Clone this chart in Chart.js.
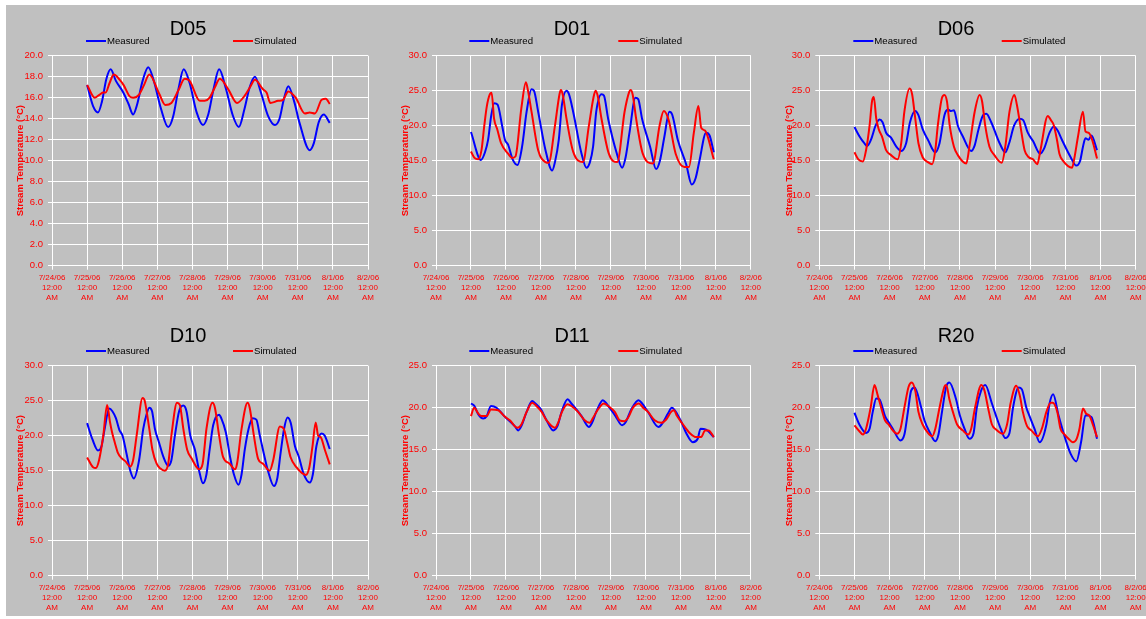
<!DOCTYPE html>
<html>
<head>
<meta charset="utf-8">
<script src="https://cdn.jsdelivr.net/npm/chart.js@4/dist/chart.umd.min.js"></script>
<style>
  html, body { margin: 0; padding: 0; width: 1146px; height: 619px; overflow: hidden; background: #ffffff; }
  #sheet { position: absolute; left: 6px; top: 5px; width: 1140px; height: 611px; background: #c0c0c0; }
  canvas { position: absolute; }
</style>
</head>
<body>
<div id="sheet"></div>
<script>
// Axis labels
const dayLabels = ['7/24/06', '7/25/06', '7/26/06', '7/27/06', '7/28/06', '7/29/06', '7/30/06', '7/31/06', '8/1/06', '8/2/06'];
const timeLabel = ['12:00', 'AM'];
const seriesNames = ['Measured', 'Simulated'];
const siteNames = ['D05', 'D01', 'D06', 'D10', 'D11', 'R20'];
const yMax = [20, 30, 30, 30, 25, 25];
const yStep = [2, 5, 5, 5, 5, 5];

// Stream temperature (°C) vs. days since 7/25/06 12:00 AM, [day, temp]
const d05Measured = [[0,17.2],[0.17,15.2],[0.31,14.6],[0.42,15.6],[0.55,17.8],[0.67,18.7],[0.82,17.6],[1.03,16.5],[1.18,15.4],[1.31,14.4],[1.42,15.3],[1.58,17.6],[1.74,18.9],[1.90,17.6],[2.10,15.0],[2.31,13.2],[2.45,14.2],[2.60,16.8],[2.75,18.7],[2.92,17.4],[3.12,14.6],[3.30,13.4],[3.45,14.4],[3.60,16.8],[3.76,18.7],[3.95,16.9],[4.15,14.3],[4.32,13.2],[4.48,14.9],[4.63,17.0],[4.78,18.0],[4.95,16.5],[5.15,14.3],[5.35,13.4],[5.48,14.0],[5.60,15.8],[5.73,17.1],[5.90,15.6],[6.05,13.6],[6.34,11.0],[6.45,11.6],[6.60,13.7],[6.74,14.4],[6.91,13.6]];
const d05Simulated = [[0,17.2],[0.22,16.0],[0.36,16.3],[0.46,16.5],[0.53,16.5],[0.64,17.4],[0.76,18.2],[0.93,17.7],[1.04,17.2],[1.22,16.1],[1.31,16.0],[1.48,16.3],[1.62,17.2],[1.77,18.2],[2.05,16.4],[2.23,15.3],[2.40,15.5],[2.60,16.7],[2.78,17.8],[2.92,17.6],[3.21,15.7],[3.35,15.7],[3.49,16.0],[3.64,17.0],[3.78,17.8],[4.02,16.8],[4.27,15.5],[4.49,16.2],[4.64,17.0],[4.78,17.7],[5.01,16.8],[5.11,16.5],[5.22,15.5],[5.44,15.7],[5.58,15.8],[5.73,16.6],[5.94,16.0],[6.20,14.5],[6.34,14.6],[6.49,14.5],[6.68,15.8],[6.80,15.9],[6.91,15.4]];

const d01Measured = [[0,19.1],[0.285,15.1],[0.40,16.2],[0.49,18.0],[0.58,21.5],[0.665,23.2],[0.76,23.0],[0.89,20.0],[0.97,18.0],[1.06,17.3],[1.19,15.2],[1.33,14.4],[1.46,17.0],[1.59,22.0],[1.73,25.2],[1.80,25.0],[1.92,22.0],[2.13,16.5],[2.32,13.6],[2.40,14.8],[2.51,18.0],[2.60,23.0],[2.73,25.0],[2.80,24.5],[2.92,22.0],[3.16,16.0],[3.30,14.0],[3.40,14.8],[3.49,17.0],[3.58,22.0],[3.73,24.5],[3.80,24.3],[3.92,21.0],[4.17,16.0],[4.32,14.0],[4.42,15.5],[4.53,19.0],[4.70,24.0],[4.78,23.8],[4.89,21.0],[5.12,17.0],[5.29,13.8],[5.40,15.0],[5.53,18.5],[5.67,22.0],[5.75,21.6],[5.91,18.0],[6.15,14.5],[6.31,11.6],[6.42,12.5],[6.53,15.0],[6.72,19.0],[6.82,18.6],[6.94,16.2]];
const d01Simulated = [[0,16.3],[0.10,15.4],[0.21,15.2],[0.30,16.5],[0.38,20.0],[0.45,22.7],[0.54,24.5],[0.59,24.7],[0.66,21.0],[0.75,19.5],[0.86,17.5],[1.06,16.0],[1.18,15.4],[1.27,15.6],[1.44,22.5],[1.57,26.2],[1.63,25.0],[1.73,22.0],[1.92,16.5],[2.13,14.8],[2.22,14.7],[2.40,20.0],[2.53,24.5],[2.57,25.1],[2.62,24.5],[2.73,21.0],[2.92,16.3],[3.20,14.8],[3.37,20.0],[3.50,24.0],[3.56,25.0],[3.62,24.3],[3.73,21.0],[3.94,16.0],[4.18,14.8],[4.39,22.0],[4.52,24.8],[4.56,25.1],[4.62,24.5],[4.72,21.0],[4.91,16.0],[5.20,14.6],[5.39,20.0],[5.51,22.1],[5.65,20.8],[5.85,16.0],[6.10,14.1],[6.23,14.1],[6.37,19.0],[6.50,22.8],[6.58,19.7],[6.69,19.3],[6.94,15.2]];

const d06Measured = [[0,19.8],[0.14,18.5],[0.28,17.5],[0.36,17.1],[0.47,18.0],[0.60,20.0],[0.71,20.9],[0.80,20.5],[0.90,19.0],[1.04,18.3],[1.19,17.0],[1.33,16.4],[1.47,17.5],[1.58,20.5],[1.73,22.1],[1.82,21.5],[1.94,19.5],[2.09,18.0],[2.30,16.2],[2.42,17.5],[2.56,21.5],[2.66,22.3],[2.75,22.1],[2.83,22.2],[2.94,20.0],[3.08,18.5],[3.32,16.4],[3.42,17.2],[3.53,19.5],[3.66,21.5],[3.75,21.7],[3.89,20.5],[4.13,17.5],[4.29,16.2],[4.40,17.5],[4.54,20.0],[4.70,21.0],[4.80,20.8],[4.93,19.0],[5.08,17.8],[5.28,16.0],[5.40,16.8],[5.55,19.0],[5.67,19.9],[5.78,19.3],[5.90,18.0],[6.15,15.5],[6.31,14.3],[6.42,15.0],[6.50,17.0],[6.57,18.2],[6.66,18.0],[6.74,18.6],[6.90,16.5]];
const d06Simulated = [[0,16.2],[0.11,15.2],[0.24,14.9],[0.33,16.5],[0.43,20.0],[0.50,23.5],[0.55,24.1],[0.62,21.0],[0.69,19.5],[0.78,18.5],[0.90,16.5],[1.04,15.8],[1.23,15.2],[1.33,17.5],[1.42,22.0],[1.57,25.3],[1.64,24.5],[1.73,21.0],[1.82,17.5],[1.94,15.5],[2.09,14.8],[2.21,14.5],[2.30,16.5],[2.37,20.0],[2.49,24.0],[2.56,24.4],[2.63,23.5],[2.71,20.0],[2.83,17.0],[2.94,15.8],[3.18,14.6],[3.27,17.0],[3.42,22.0],[3.56,24.4],[3.63,23.5],[3.72,20.0],[3.84,17.0],[3.98,15.8],[4.19,14.7],[4.29,17.0],[4.41,22.0],[4.55,24.4],[4.62,23.0],[4.72,20.0],[4.84,16.5],[4.96,15.5],[5.08,15.2],[5.20,14.5],[5.29,16.5],[5.50,21.4],[5.60,20.7],[5.66,20.2],[5.76,18.0],[5.83,16.0],[5.93,15.0],[6.19,14.0],[6.26,15.5],[6.36,18.5],[6.50,22.0],[6.57,19.2],[6.66,19.0],[6.76,18.0],[6.90,15.3]];

const d10Measured = [[0,21.8],[0.15,19.5],[0.31,17.9],[0.41,18.5],[0.50,21.0],[0.63,23.9],[0.72,23.5],[0.82,22.5],[0.92,20.8],[1.01,20.0],[1.12,17.5],[1.23,15.0],[1.33,13.9],[1.48,16.5],[1.60,21.0],[1.69,23.0],[1.77,24.0],[1.85,23.5],[1.93,21.0],[2.05,19.0],[2.17,17.0],[2.31,15.7],[2.40,16.5],[2.50,20.0],[2.62,23.5],[2.74,24.3],[2.83,23.5],[2.94,20.0],[3.07,18.0],[3.19,15.0],[3.30,13.2],[3.40,14.5],[3.49,18.0],[3.59,21.5],[3.76,23.0],[3.82,22.5],[3.95,20.5],[4.07,17.0],[4.18,14.5],[4.31,13.0],[4.40,14.5],[4.49,18.0],[4.60,21.0],[4.71,22.5],[4.82,22.3],[4.92,20.0],[5.03,17.5],[5.15,15.0],[5.32,12.8],[5.42,14.0],[5.51,17.5],[5.61,21.0],[5.71,22.6],[5.80,21.8],[5.92,18.5],[6.03,17.0],[6.17,14.5],[6.34,13.3],[6.43,14.5],[6.53,18.5],[6.68,20.3],[6.77,20.0],[6.91,18.1]];
const d10Simulated = [[0,16.9],[0.17,15.5],[0.25,15.4],[0.34,16.5],[0.46,20.0],[0.57,24.4],[0.65,22.0],[0.71,20.5],[0.79,19.0],[0.88,17.5],[0.98,16.8],[1.10,16.3],[1.22,15.6],[1.31,16.5],[1.41,20.0],[1.58,25.4],[1.64,25.0],[1.77,21.0],[1.86,18.0],[1.98,16.0],[2.09,15.3],[2.21,15.0],[2.31,16.0],[2.40,20.0],[2.56,24.7],[2.64,24.4],[2.74,21.0],[2.85,18.0],[2.97,16.8],[3.19,15.2],[3.29,16.0],[3.40,21.0],[3.57,24.7],[3.64,24.0],[3.76,20.0],[3.87,17.0],[4.06,16.0],[4.21,15.2],[4.27,16.0],[4.40,21.0],[4.57,24.7],[4.63,24.0],[4.75,20.0],[4.87,16.7],[5.01,16.0],[5.20,15.0],[5.30,16.5],[5.49,21.3],[5.60,21.0],[5.70,19.0],[5.79,17.0],[5.96,15.5],[6.23,14.4],[6.33,15.5],[6.42,18.5],[6.51,21.9],[6.58,20.0],[6.65,19.8],[6.77,18.0],[6.91,15.9]];

const d11Measured = [[0,20.5],[0.10,20.2],[0.21,19.2],[0.35,18.7],[0.45,19.0],[0.57,20.2],[0.73,20.0],[0.95,19.0],[1.25,17.8],[1.35,17.3],[1.44,17.8],[1.59,19.5],[1.75,20.8],[1.84,20.5],[2.00,19.8],[2.16,18.5],[2.35,17.3],[2.47,17.8],[2.59,19.5],[2.76,21.0],[2.87,20.5],[3.16,19.0],[3.37,17.7],[3.46,18.2],[3.58,19.5],[3.77,20.9],[3.87,20.5],[4.13,19.0],[4.32,17.9],[4.41,18.2],[4.58,19.8],[4.79,20.9],[4.89,20.5],[5.06,19.5],[5.36,17.7],[5.48,18.2],[5.63,19.3],[5.74,20.0],[5.99,18.5],[6.15,17.0],[6.34,15.9],[6.48,16.3],[6.56,17.5],[6.72,17.4],[6.94,16.5]];
const d11Simulated = [[0,19.0],[0.09,20.0],[0.21,19.3],[0.30,19.0],[0.45,19.0],[0.57,19.8],[0.78,19.7],[0.95,19.0],[1.11,18.5],[1.33,17.6],[1.44,18.0],[1.59,19.5],[1.75,20.6],[1.87,20.2],[2.02,19.5],[2.16,18.5],[2.40,17.6],[2.49,18.2],[2.60,19.5],[2.76,20.4],[2.87,20.2],[3.06,19.5],[3.25,18.5],[3.39,18.2],[3.49,18.8],[3.63,19.8],[3.80,20.5],[3.92,20.2],[4.11,19.5],[4.25,18.5],[4.39,18.4],[4.49,18.8],[4.63,20.0],[4.80,20.5],[4.92,20.0],[5.06,19.5],[5.25,18.5],[5.44,18.2],[5.58,18.6],[5.72,19.5],[5.80,19.7],[5.89,19.0],[6.06,18.0],[6.25,17.0],[6.44,16.5],[6.58,16.5],[6.69,17.3],[6.79,17.3],[6.94,16.5]];

const r20Measured = [[0,19.4],[0.14,18.0],[0.33,17.0],[0.43,17.5],[0.52,19.5],[0.62,21.1],[0.71,21.0],[0.87,19.0],[0.97,18.3],[1.09,17.5],[1.31,16.1],[1.42,16.8],[1.52,19.5],[1.61,22.0],[1.71,22.4],[1.90,20.0],[1.99,18.5],[2.15,17.0],[2.30,16.0],[2.39,16.8],[2.49,19.5],[2.61,22.5],[2.70,23.0],[2.89,21.0],[2.99,19.2],[3.13,17.5],[3.27,16.3],[3.39,17.0],[3.48,20.0],[3.60,22.0],[3.72,22.7],[3.91,20.5],[4.03,19.0],[4.16,17.5],[4.29,16.4],[4.41,17.0],[4.51,20.0],[4.67,22.4],[4.76,22.2],[4.89,20.0],[4.98,19.0],[5.12,17.5],[5.27,15.9],[5.46,18.0],[5.55,20.5],[5.65,21.6],[5.81,19.0],[6.02,16.0],[6.15,14.5],[6.31,13.6],[6.45,16.0],[6.57,19.1],[6.74,18.9],[6.90,16.3]];
const r20Simulated = [[0,17.9],[0.14,17.2],[0.24,16.8],[0.33,17.5],[0.46,20.0],[0.57,22.7],[0.66,21.5],[0.76,20.0],[0.87,18.5],[0.97,18.0],[1.09,17.3],[1.21,16.9],[1.31,17.5],[1.42,20.0],[1.54,22.5],[1.63,23.0],[1.73,22.0],[1.82,19.5],[1.94,18.0],[2.09,17.0],[2.21,16.6],[2.30,17.5],[2.42,20.0],[2.56,22.5],[2.61,22.7],[2.70,21.0],[2.80,19.5],[2.92,18.0],[3.08,17.3],[3.23,16.8],[3.32,17.5],[3.43,20.0],[3.61,22.7],[3.70,22.0],[3.80,20.0],[3.91,18.0],[4.03,17.4],[4.22,16.9],[4.34,18.0],[4.44,20.5],[4.60,22.6],[4.70,21.5],[4.79,19.5],[4.91,17.8],[5.03,17.3],[5.22,16.6],[5.33,17.5],[5.46,19.5],[5.58,20.6],[5.64,20.6],[5.77,19.5],[5.86,17.5],[5.98,16.8],[6.09,16.3],[6.21,15.9],[6.31,16.2],[6.40,17.5],[6.50,19.9],[6.59,19.3],[6.69,19.0],[6.78,18.0],[6.90,16.5]];

const measuredSeries = [d05Measured, d01Measured, d06Measured, d10Measured, d11Measured, r20Measured];
const simulatedSeries = [d05Simulated, d01Simulated, d06Simulated, d10Simulated, d11Simulated, r20Simulated];

// Panel placement on the sheet (canvas box and plot-area edges, in px)
const panelBoxes = [
  { left: 0,   top: 0,   width: 385, plotLeft: 52,   plotRight: 368,   titleX: 188, titleY: 29, legendX: [86, 233],     yTitleX: 20.7 },
  { left: 385, top: 0,   width: 380, plotLeft: 51,   plotRight: 366.7, titleX: 187, titleY: 29, legendX: [84.3, 233.3], yTitleX: 20.7 },
  { left: 765, top: 0,   width: 400, plotLeft: 54.3, plotRight: 370.7, titleX: 191, titleY: 29, legendX: [88.3, 236.7], yTitleX: 24 },
  { left: 0,   top: 310, width: 385, plotLeft: 52,   plotRight: 368,   titleX: 188, titleY: 26, legendX: [86, 233],     yTitleX: 20.7 },
  { left: 385, top: 310, width: 380, plotLeft: 51,   plotRight: 366.7, titleX: 187, titleY: 26, legendX: [84.3, 233.3], yTitleX: 20.7 },
  { left: 765, top: 310, width: 400, plotLeft: 54.3, plotRight: 370.7, titleX: 191, titleY: 26, legendX: [88.3, 236.7], yTitleX: 24 }
];
const PANEL_H = 310, PLOT_TOP = 55.7, PLOT_BOTTOM = 265.7, LEGEND_Y = 41;
const FONT = 'Arial, "Liberation Sans", Helvetica, sans-serif';
const RED = '#ff0000', BLUE = '#0000ff';

Chart.defaults.font.family = FONT;

// Draws the panel heading and the line-sample legend
const panelDecor = {
  id: 'panelDecor',
  afterDraw(chart, args, opts) {
    const ctx = chart.ctx;
    ctx.save();
    ctx.fillStyle = '#000000';
    ctx.font = '20px ' + FONT;
    ctx.textAlign = 'center';
    ctx.textBaseline = 'middle';
    ctx.fillText(opts.title, opts.titleX, opts.titleY);
    ctx.font = '9.6px ' + FONT;
    ctx.textAlign = 'left';
    chart.data.datasets.forEach((ds, i) => {
      const x = opts.legendX[i];
      ctx.strokeStyle = ds.borderColor;
      ctx.lineWidth = 2;
      ctx.beginPath();
      ctx.moveTo(x, opts.legendY);
      ctx.lineTo(x + 20, opts.legendY);
      ctx.stroke();
      ctx.fillStyle = '#000000';
      ctx.fillText(ds.label, x + 21, opts.legendY + 0.5);
    });
    ctx.restore();
  }
};

const toPoints = (pairs) => pairs.map(([x, y]) => ({ x, y }));

siteNames.forEach((site, i) => {
  const box = panelBoxes[i];
  const canvas = document.createElement('canvas');
  canvas.width = box.width;
  canvas.height = PANEL_H;
  canvas.style.left = box.left + 'px';
  canvas.style.top = box.top + 'px';
  canvas.style.width = box.width + 'px';
  canvas.style.height = PANEL_H + 'px';
  document.body.appendChild(canvas);

  const yTitleFont = { size: 9.5, weight: 'bold', lineHeight: 1.2 };

  new Chart(canvas, {
    type: 'line',
    data: {
      datasets: [
        { label: seriesNames[0], data: toPoints(measuredSeries[i]), borderColor: BLUE, backgroundColor: BLUE, order: 1 },
        { label: seriesNames[1], data: toPoints(simulatedSeries[i]), borderColor: RED, backgroundColor: RED, order: 0 }
      ]
    },
    options: {
      responsive: false,
      animation: false,
      devicePixelRatio: 1,
      layout: { padding: { left: 0, top: PLOT_TOP, right: box.width - box.plotRight, bottom: 0 } },
      elements: {
        point: { radius: 0, hoverRadius: 0 },
        line: { borderWidth: 2, cubicInterpolationMode: 'monotone', fill: false }
      },
      plugins: {
        legend: { display: false },
        title: { display: false },
        tooltip: { enabled: false },
        panelDecor: { title: site, titleX: box.titleX, titleY: box.titleY, legendX: box.legendX, legendY: LEGEND_Y }
      },
      scales: {
        x: {
          type: 'linear',
          min: -1,
          max: 8,
          afterFit: (s) => { s.height = PANEL_H - PLOT_BOTTOM; },
          ticks: {
            stepSize: 1,
            autoSkip: false,
            maxRotation: 0,
            color: RED,
            padding: 3,
            font: { size: 8, lineHeight: 1.27 },
            callback: (v) => [dayLabels[Math.round(v) + 1], ...timeLabel]
          },
          grid: { color: '#ffffff', lineWidth: 1, tickLength: 4, drawTicks: true },
          border: { color: '#ffffff', width: 1 }
        },
        y: {
          min: 0,
          max: yMax[i],
          afterFit: (s) => { s.width = box.plotLeft; },
          ticks: {
            stepSize: yStep[i],
            color: RED,
            padding: 5,
            font: { size: 9.5 },
            callback: (v) => Number(v).toFixed(1)
          },
          grid: { color: '#ffffff', lineWidth: 1, tickLength: 4, drawTicks: true },
          border: { color: '#ffffff', width: 1 },
          title: {
            display: true,
            text: 'Stream Temperature (°C)',
            color: RED,
            font: yTitleFont,
            padding: { top: box.yTitleX - 9.5 * 1.2 / 2, bottom: 0 }
          }
        }
      }
    },
    plugins: [panelDecor]
  });
});
</script>
</body>
</html>
